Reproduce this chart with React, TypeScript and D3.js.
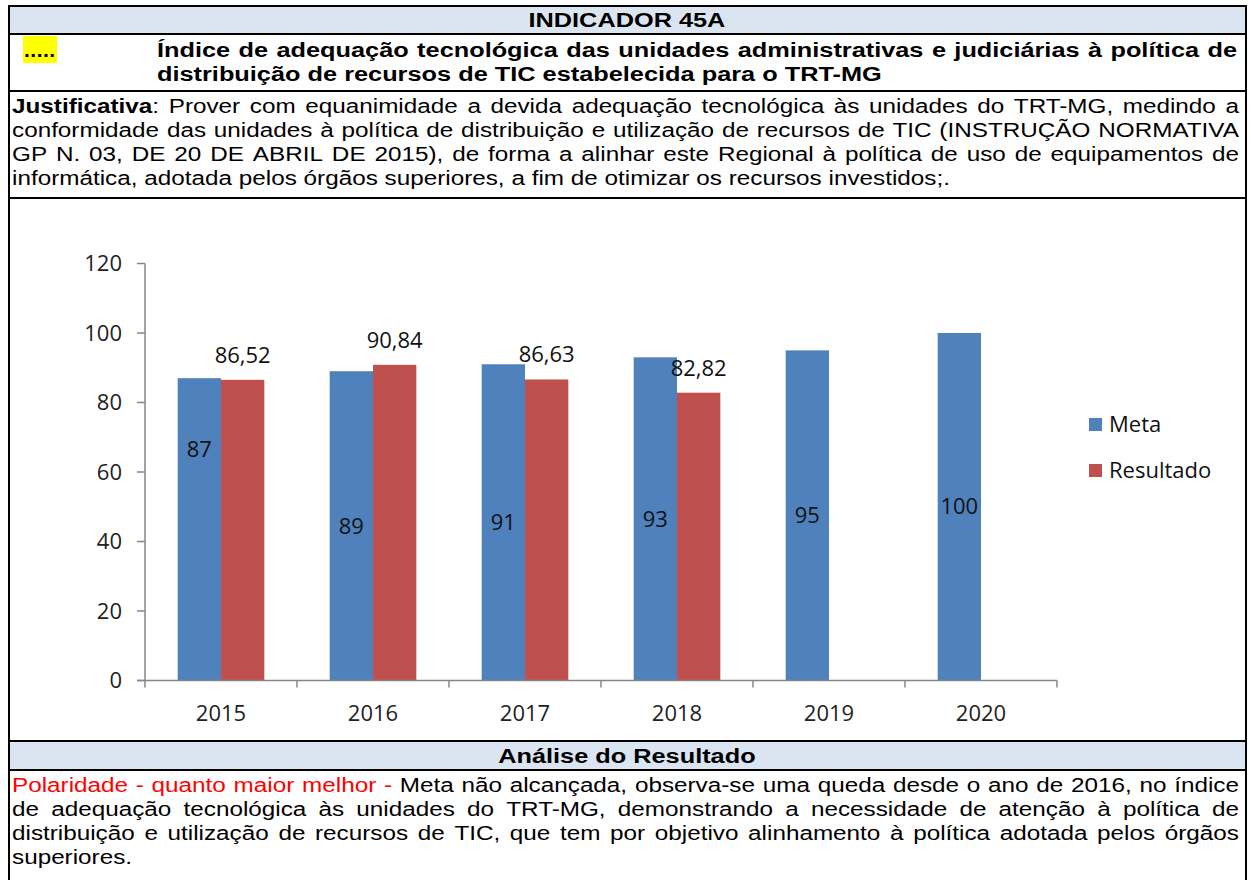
import React from 'react';
import * as d3 from 'd3';

// ---------- data ----------
const years = ['2015', '2016', '2017', '2018', '2019', '2020'];
const metaValues = [87, 89, 91, 93, 95, 100];
const resultadoValues: (number | null)[] = [86.52, 90.84, 86.63, 82.82, null, null];
const metaLabels = ['87', '89', '91', '93', '95', '100'];
const resultadoLabels = ['86,52', '90,84', '86,63', '82,82', '', ''];
// label for 2015 Meta was dragged up in the original chart (position in data units)
const metaLabelAt: (number | null)[] = [66.6, null, null, null, null, null];
const yTicks = [0, 20, 40, 60, 80, 100, 120];
const seriesNames = ['Meta', 'Resultado'];
const seriesColors = ['#4f81bd', '#c0504d'];

type Run = { t: string; b?: boolean; c?: string };

const headerTitle = 'INDICADOR 45A';
const titleLines: Run[][] = [
  [{ t: 'Índice de adequação tecnológica das unidades administrativas e judiciárias à política de', b: true }],
  [{ t: 'distribuição de recursos de TIC estabelecida para o TRT-MG', b: true }],
];
const justLines: Run[][] = [
  [{ t: 'Justificativa', b: true }, { t: ': Prover com equanimidade a devida adequação tecnológica às unidades do TRT-MG, medindo a' }],
  [{ t: 'conformidade das unidades à política de distribuição e utilização de recursos de TIC (INSTRUÇÃO NORMATIVA' }],
  [{ t: 'GP N. 03, DE 20 DE ABRIL DE 2015), de forma a alinhar este Regional à política de uso de equipamentos de' }],
  [{ t: 'informática, adotada pelos órgãos superiores, a fim de otimizar os recursos investidos;.' }],
];
const analiseTitle = 'Análise do Resultado';
const analiseLines: Run[][] = [
  [{ t: 'Polaridade - quanto maior melhor - ', c: '#ff0000' }, { t: 'Meta não alcançada, observa-se uma queda desde o ano de 2016, no índice' }],
  [{ t: 'de adequação tecnológica às unidades do TRT-MG, demonstrando a necessidade de atenção à política de' }],
  [{ t: 'distribuição e utilização de recursos de TIC, que tem por objetivo alinhamento à política adotada pelos órgãos' }],
  [{ t: 'superiores.' }],
];

// ---------- text helpers ----------
const ARIAL = '"Liberation Sans", Arial, sans-serif';
const CHART_FONT = '"Open Sans", Lato, sans-serif';
let ctx: CanvasRenderingContext2D | null = null;
function measure(t: string, size: number, bold = false): number {
  if (!ctx) ctx = document.createElement('canvas').getContext('2d');
  ctx!.font = `${bold ? 'bold ' : ''}${size}px ${ARIAL}`;
  return ctx!.measureText(t).width;
}

function splitWords(runs: Run[]): Run[][] {
  const words: Run[][] = [[]];
  runs.forEach((r) => {
    const parts = r.t.split(' ');
    parts.forEach((p, j) => {
      if (j > 0) words.push([]);
      if (p) words[words.length - 1].push({ ...r, t: p });
    });
  });
  return words.filter((w) => w.length);
}

function TextLine({ runs, x0, x1, y, size, sx, justify }: { runs: Run[]; x0: number; x1: number; y: number; size: number; sx: number; justify: boolean }) {
  const words = splitWords(runs);
  const widths = words.map((w) => d3.sum(w, (r) => measure(r.t, size, !!r.b) * sx));
  const total = d3.sum(widths);
  const gap = justify && words.length > 1 ? (x1 - x0 - total) / (words.length - 1) : measure(' ', size) * sx;
  let x = x0;
  return (
    <g>
      {words.map((w, i) => {
        const el = (
          <text key={i} transform={`translate(${x},${y}) scale(${sx},1)`} fontFamily={ARIAL} fontSize={size}>
            {w.map((r, k) => (
              <tspan key={k} fontWeight={r.b ? 'bold' : 'normal'} fill={r.c || '#000'}>{r.t}</tspan>
            ))}
          </text>
        );
        x += widths[i] + gap;
        return el;
      })}
    </g>
  );
}

// ---------- App ----------
export default function App() {
  const W = 1251, H = 880;
  const L = 9, R = 1246; // table border centres
  const rows = [6, 34, 91, 198, 741, 770];
  const textL = 12, textR = 1239;
  const body = 21;
  const bold = 21;
  const sxBody = 938 / measure(justLines[3][0].t, body);
  const sxBold = 197 / measure(headerTitle, bold, true);

  // chart scales
  const plotL = 145, plotR = 1057, plotTop = 263.5, plotBot = 680.5;
  const y = d3.scaleLinear().domain([0, 120]).range([plotBot, plotTop]);
  const x = d3.scaleBand<string>().domain(years).range([plotL, plotR]).paddingInner(0.43).paddingOuter(0.215);
  const xs = d3.scaleBand<string>().domain(seriesNames).range([0, x.bandwidth()]);
  const step = x.step();
  const boundaries = d3.range(years.length + 1).map((i) => plotL + i * step);
  const axisColor = '#868686';

  const centerText = (t: string, cx: number, baseline: number, size: number, sx: number, weight = 'bold') => {
    const w = measure(t, size, weight === 'bold') * sx;
    return (
      <text transform={`translate(${cx - w / 2},${baseline}) scale(${sx},1)`} fontFamily={ARIAL} fontSize={size} fontWeight={weight}>{t}</text>
    );
  };

  return (
    <svg width={W} height={H} style={{ position: 'absolute', left: 0, top: 0, background: '#fff' }}>
      {/* header backgrounds */}
      <rect x={L} y={rows[0]} width={R - L} height={rows[1] - rows[0]} fill="#dbe5f1" />
      <rect x={L} y={rows[4]} width={R - L} height={rows[5] - rows[4]} fill="#dbe5f1" />
      {/* table borders */}
      {rows.map((ry, i) => (
        <line key={i} x1={L - 1} x2={R + 1} y1={ry} y2={ry} stroke="#000" strokeWidth={2} />
      ))}
      <line x1={L} x2={L} y1={rows[0]} y2={H} stroke="#000" strokeWidth={2} />
      <line x1={R} x2={R} y1={rows[0]} y2={H} stroke="#000" strokeWidth={2} />

      {/* header texts */}
      {centerText(headerTitle, 627, 27, bold, sxBold)}
      <rect x={23} y={36} width={34} height={27} fill="#ffff00" />
      <text x={24} y={57} fontFamily={ARIAL} fontSize={bold} fontWeight="bold" letterSpacing={0.5}>.....</text>
      {titleLines.map((ln, i) => (
        <TextLine key={i} runs={ln} x0={157} x1={1237} y={57 + i * 24} size={bold} sx={sxBold} justify={i < titleLines.length - 1} />
      ))}
      {justLines.map((ln, i) => (
        <TextLine key={i} runs={ln} x0={textL} x1={textR} y={113 + i * 24} size={body} sx={sxBody} justify={i < justLines.length - 1} />
      ))}
      {centerText(analiseTitle, 627, 763, bold, sxBold)}
      {analiseLines.map((ln, i) => (
        <TextLine key={i} runs={ln} x0={textL} x1={textR} y={792 + i * 24} size={body} sx={sxBody} justify={i < analiseLines.length - 1} />
      ))}

      {/* chart */}
      <g fontFamily={CHART_FONT} fontSize={22} fill="#000">
        {/* bars */}
        {years.map((yr, i) => (
          <g key={yr}>
            <rect x={x(yr)! + xs('Meta')!} y={y(metaValues[i])} width={xs.bandwidth()} height={plotBot - y(metaValues[i])} fill={seriesColors[0]} />
            {resultadoValues[i] != null && (
              <rect x={x(yr)! + xs('Resultado')!} y={y(resultadoValues[i]!)} width={xs.bandwidth()} height={plotBot - y(resultadoValues[i]!)} fill={seriesColors[1]} />
            )}
          </g>
        ))}
        {/* axes */}
        <line x1={plotL} x2={plotL} y1={plotTop} y2={plotBot} stroke={axisColor} strokeWidth={1.5} />
        {yTicks.map((t) => (
          <g key={t}>
            <line x1={plotL - 8} x2={plotL} y1={y(t)} y2={y(t)} stroke={axisColor} strokeWidth={1.5} />
            <text x={plotL - 23} y={y(t)} dy="0.35em" textAnchor="end" fill="#222">{t}</text>
          </g>
        ))}
        <line x1={plotL - 8} x2={plotR} y1={plotBot} y2={plotBot} stroke={axisColor} strokeWidth={1.5} />
        {boundaries.map((bx, i) => (
          <line key={i} x1={bx} x2={bx} y1={plotBot} y2={plotBot + 7} stroke={axisColor} strokeWidth={1.5} />
        ))}
        {years.map((yr) => (
          <text key={yr} x={x(yr)! + x.bandwidth() / 2} y={721} textAnchor="middle" fill="#222">{yr}</text>
        ))}
        {/* data labels */}
        {years.map((yr, i) => {
          const v = metaLabelAt[i] ?? metaValues[i] / 2;
          return (
            <text key={'m' + yr} x={x(yr)! + xs('Meta')! + xs.bandwidth() / 2} y={y(v)} dy="0.35em" textAnchor="middle" fill="#111">{metaLabels[i]}</text>
          );
        })}
        {years.map((yr, i) =>
          resultadoValues[i] != null ? (
            <text key={'r' + yr} x={x(yr)! + xs('Resultado')! + xs.bandwidth() / 2} y={y(resultadoValues[i]!) - 17} textAnchor="middle" fill="#111">{resultadoLabels[i]}</text>
          ) : null
        )}
        {/* legend */}
        {seriesNames.map((s, i) => (
          <g key={s} transform={`translate(1089,${418 + i * 46})`}>
            <rect width={13} height={13} fill={seriesColors[i]} />
            <text x={20} y={6.5} dy="0.35em" fill="#111">{s}</text>
          </g>
        ))}
      </g>
    </svg>
  );
}
